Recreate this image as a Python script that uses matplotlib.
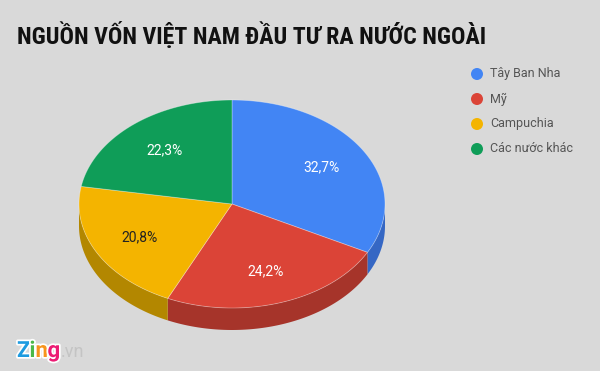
import numpy as np
import matplotlib.pyplot as plt
from matplotlib.patches import Polygon, Circle
import matplotlib.patheffects as pe

plt.rcParams['font.family'] = ['Roboto', 'DejaVu Sans']

title = "NGUỒN VỐN VIỆT NAM ĐẦU TƯ RA NƯỚC NGOÀI"
countries = ["Tây Ban Nha", "Mỹ", "Campuchia", "Các nước khác"]
shares = [32.7, 24.2, 20.8, 22.3]
labels = ["32,7%", "24,2%", "20,8%", "22,3%"]

top_colors = ["#4285f4", "#db4437", "#f4b400", "#0f9d58"]
side_colors = ["#3567c4", "#a6342a", "#b38700", "#0b7442"]
label_colors = ["white", "white", "#222222", "white"]
bg = "#d9d9d9"

# pie geometry in pixels (y grows downward)
cx, cy, a, b, depth = 232, 204, 153, 104, 22


def ellipse(t, r=1.0, dz=0.0):
    t = np.radians(t)
    return cx + r * a * np.sin(t), cy - r * b * np.cos(t) + dz


fig = plt.figure(figsize=(6, 3.71), dpi=100, facecolor=bg)
ax = fig.add_axes([0, 0, 1, 1])
ax.set_xlim(0, 600)
ax.set_ylim(371, 0)
ax.axis("off")

ends = np.cumsum(shares) / np.sum(shares) * 360
starts = np.concatenate([[0], ends[:-1]])

# side walls (only the front half is seen)
for t1, t2, col in zip(starts, ends, side_colors):
    lo, hi = max(t1, 90), min(t2, 270)
    if lo >= hi:
        continue
    tt = np.linspace(lo, hi, 80)
    xs, ys = ellipse(tt)
    xb, yb = ellipse(tt[::-1], dz=depth)
    ax.add_patch(Polygon(np.column_stack([np.r_[xs, xb], np.r_[ys, yb]]),
                         closed=True, fc=col, ec="none"))

# top faces
for t1, t2, col in zip(starts, ends, top_colors):
    tt = np.linspace(t1, t2, 120)
    xs, ys = ellipse(tt)
    ax.add_patch(Polygon(np.column_stack([np.r_[cx, xs], np.r_[cy, ys]]),
                         closed=True, fc=col, ec=(1, 1, 1, 0.35), lw=0.6))

for t1, t2, lab, lc in zip(starts, ends, labels, label_colors):
    lx, ly = ellipse((t1 + t2) / 2, r=0.68)
    ax.text(lx, ly, lab, color=lc, fontsize=10, ha="center", va="center")

ax.text(17, 44, title, fontsize=17.2, fontweight="bold", color="#111111",
        family=['Roboto Condensed', 'Liberation Sans Narrow', 'Roboto', 'DejaVu Sans'],
        ha="left", va="baseline")

# legend
for i, (name, col) in enumerate(zip(countries, top_colors)):
    y = 74 + i * 25
    ax.add_patch(Circle((477, y), 6, fc=col, ec="none"))
    ax.text(490, y, name, fontsize=9, color="#555555", ha="left", va="center")

# logo
logo = [("Z", "#1e9be0"), ("i", "#4cb848"), ("n", "#f7941d"), ("g", "#ec1c74")]
x = 17
for ch, col in logo:
    ax.text(x, 357, ch, fontsize=16, fontweight="bold", color=col,
            ha="left", va="baseline",
            path_effects=[pe.withStroke(linewidth=2.5, foreground="white")])
    x += {"Z": 12.5, "i": 6, "n": 12, "g": 12}[ch]
ax.text(x + 1, 357, ".vn", fontsize=13, color="#c4c4c4", ha="left", va="baseline")

fig.savefig("out.png", dpi=100, facecolor=bg)
